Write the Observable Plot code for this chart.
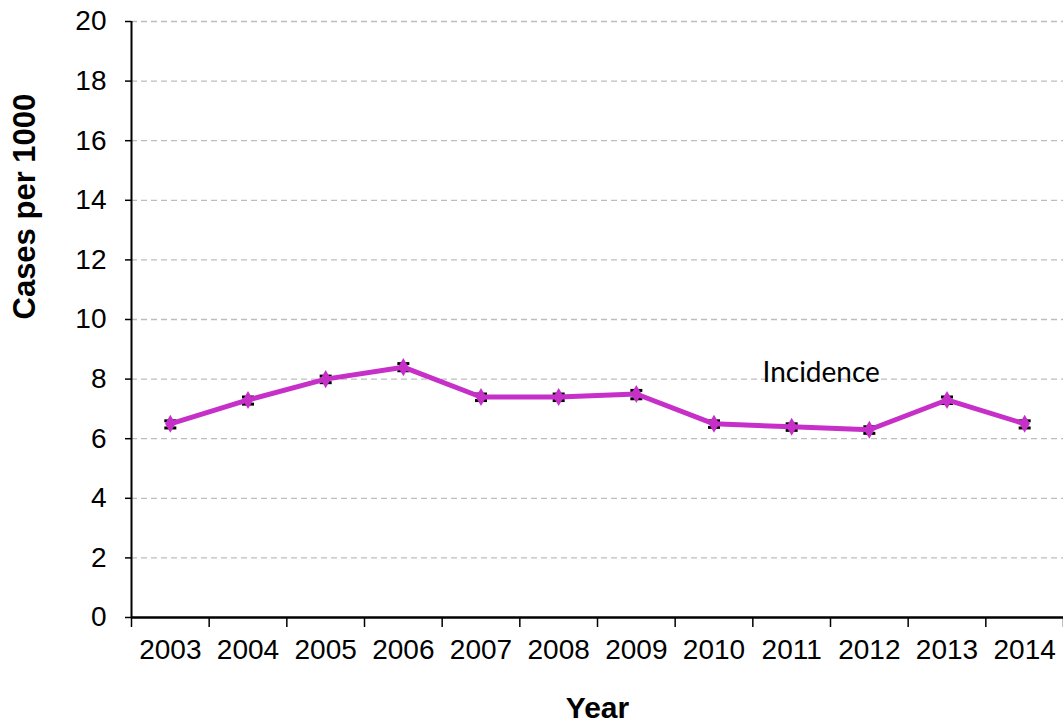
<!DOCTYPE html>
<html><head><meta charset="utf-8">
<script src="https://cdn.jsdelivr.net/npm/d3@7"></script>
<script src="https://cdn.jsdelivr.net/npm/@observablehq/plot@0.6"></script>
<style>body{margin:0;background:#fff;} svg{display:block;}</style>
</head><body><div id="chart"></div>
<script>
const years = [2003,2004,2005,2006,2007,2008,2009,2010,2011,2012,2013,2014];
const incidence = [6.5,7.3,8.0,8.4,7.4,7.4,7.5,6.5,6.4,6.3,7.3,6.5];
const errLow = [0.14,0.14,0.12,0.12,0.12,0.12,0.16,0.12,0.12,0.12,0.12,0.14];
const errHigh = [0.1,0.1,0.1,0.12,0.1,0.1,0.12,0.1,0.1,0.1,0.1,0.1];
const yTicks = [0,2,4,6,8,10,12,14,16,18,20];
const boundaries = [2002.5,2003.5,2004.5,2005.5,2006.5,2007.5,2008.5,2009.5,2010.5,2011.5,2012.5,2013.5,2014.5];
const seriesLabel = "Incidence";
const labelPos = {year: 2011.38, value: 7.89};

const data = years.map((y,i)=>({year:y, value:incidence[i], lo:incidence[i]-errLow[i], hi:incidence[i]+errHigh[i]}));
const hline = {draw(ctx, size){ const w = Math.sqrt(size/Math.PI)*1.2; ctx.moveTo(-w,0); ctx.lineTo(w,0);} };
const color = "#C630C9";

const chart = Plot.plot({
  width: 1063, height: 724,
  marginLeft: 131, marginRight: 0, marginTop: 21, marginBottom: 107,
  style: {fontFamily: "'Liberation Sans', Arial, sans-serif", fontSize: "28px", background: "#fff", color: "#000"},
  x: {domain: [2002.5, 2014.5]},
  y: {domain: [0, 20]},
  marks: [
    Plot.ruleY(yTicks.filter(d=>d>0), {stroke: "#bdbdbd", strokeWidth: 1.3, strokeDasharray: "6,4"}),
    Plot.axisY({ticks: yTicks, tickSize: 6, tickPadding: 19, fontSize: 28, label: null, strokeWidth: 1.5}),
    Plot.axisX({ticks: years, tickSize: 0, tickPadding: 22, fontSize: 28, tickFormat: d=>String(d), label: null}),
    Plot.ruleX(boundaries, {x: d=>d, y1: 0, y2: -0.335, stroke: "#000", strokeWidth: 1.5}),
    Plot.ruleX([2002.5], {y1: 0, y2: 20, stroke: "#000", strokeWidth: 2}),
    Plot.ruleY([0], {stroke: "#000", strokeWidth: 2.5}),
    Plot.ruleX(data, {x: "year", y1: "lo", y2: "hi", stroke: "#000", strokeWidth: 1.5}),
    Plot.dot(data, {x: "year", y: "lo", symbol: hline, r: 5, stroke: "#000", strokeWidth: 3}),
    Plot.dot(data, {x: "year", y: "hi", symbol: hline, r: 5, stroke: "#000", strokeWidth: 3}),
    Plot.line(data, {x: "year", y: "value", stroke: color, strokeWidth: 5}),
    Plot.dot(data, {x: "year", y: "value", symbol: "diamond", r: 5.5, fill: color, stroke: "none"}),
    Plot.text([labelPos], {x: "year", y: "value", text: () => seriesLabel, fontFamily: "Lato, 'Open Sans', sans-serif", fontSize: 28, textAnchor: "middle", lineAnchor: "bottom", fill: "#000"}),
    Plot.text([{t:"Year"}], {frameAnchor: "bottom", lineAnchor: "bottom", dy: 100, text: "t", fontWeight: "bold", fontSize: 30}),
    Plot.text([{t:"Cases per 1000"}], {frameAnchor: "left", dx: -106, rotate: -90, text: "t", fontWeight: "bold", fontSize: 31})
  ]
});
document.getElementById("chart").appendChild(chart);
</script></body></html>
